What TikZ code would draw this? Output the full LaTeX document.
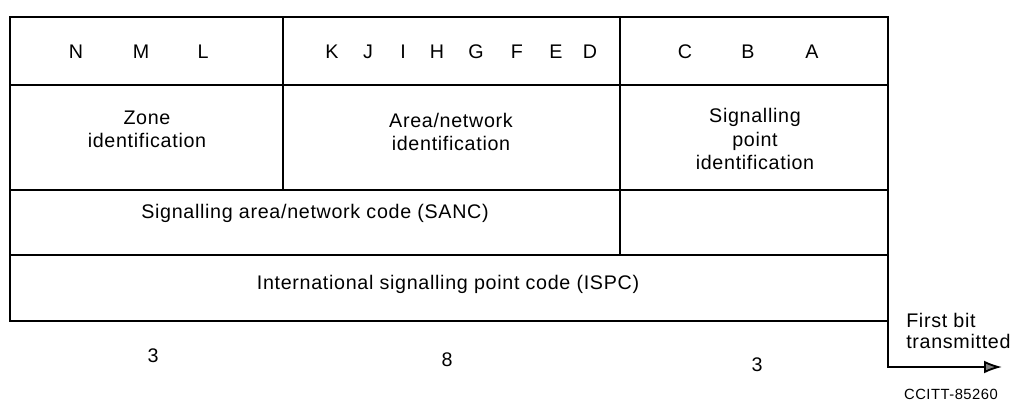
\documentclass[tikz,border=0pt]{standalone}
\usepackage{fontspec}
\setmainfont{Liberation Sans}[LetterSpace=3.5]
\usetikzlibrary{positioning,arrows.meta}

\begin{document}
\begin{tikzpicture}[x=0.025cm,y=-0.025cm,
   grid/.style={line width=1.3pt},
   txt/.style={font=\fontsize{14}{16.5}\selectfont,align=center,inner sep=0pt},
   bitname/.style={txt},
   small/.style={font=\fontsize{10.5}{12}\selectfont,inner sep=0pt}]
   \useasboundingbox (0,0) rectangle (1014,403);
   % frame and rows
   \draw[grid] (10,17) rectangle (888,321);
   \draw[grid] (10,85) -- (888,85);
   \draw[grid] (10,190) -- (888,190);
   \draw[grid] (10,255) -- (888,255);
   \draw[grid] (283,17) -- (283,190);
   \draw[grid] (620,17) -- (620,255);
   % bit names
   \foreach \b/\x in {N/76,M/141,L/203,K/332,J/368,I/403,H/437,G/476,F/517,E/556,D/590,C/685,B/748,A/812}
      \node[bitname] (bit\b) at (\x,52) {\b};
   % fields
   \node[txt] (zone) at (147,129) {Zone\\identification};
   \node[txt] (area) at (451,132) {Area/network\\identification};
   \node[txt] (sp)   at (755,139) {Signalling\\point\\identification};
   \node[txt] (sanc) at (315,213) {Signalling area/network code (SANC)};
   \node[txt] (ispc) at (448,284) {International signalling point code (ISPC)};
   % widths
   \node[txt] (w1) at (153,356) {3};
   \node[txt] (w2) at (447,360) {8};
   \node[txt] (w3) at (757,365) {3};
   % first bit
   \coordinate (corner) at (888,321);
   \coordinate (tip) at (1002,367);
   \draw[grid,-{Latex[length=4.5mm,width=3.2mm,fill=gray]}] (corner) |- (tip);
   \node[txt,align=left,anchor=west,font=\fontsize{14}{14.5}\selectfont] (first) at (906,331) {First bit\\transmitted};
   \node[small] (ref) at (951,394) {CCITT-85260};
\end{tikzpicture}
\end{document}
